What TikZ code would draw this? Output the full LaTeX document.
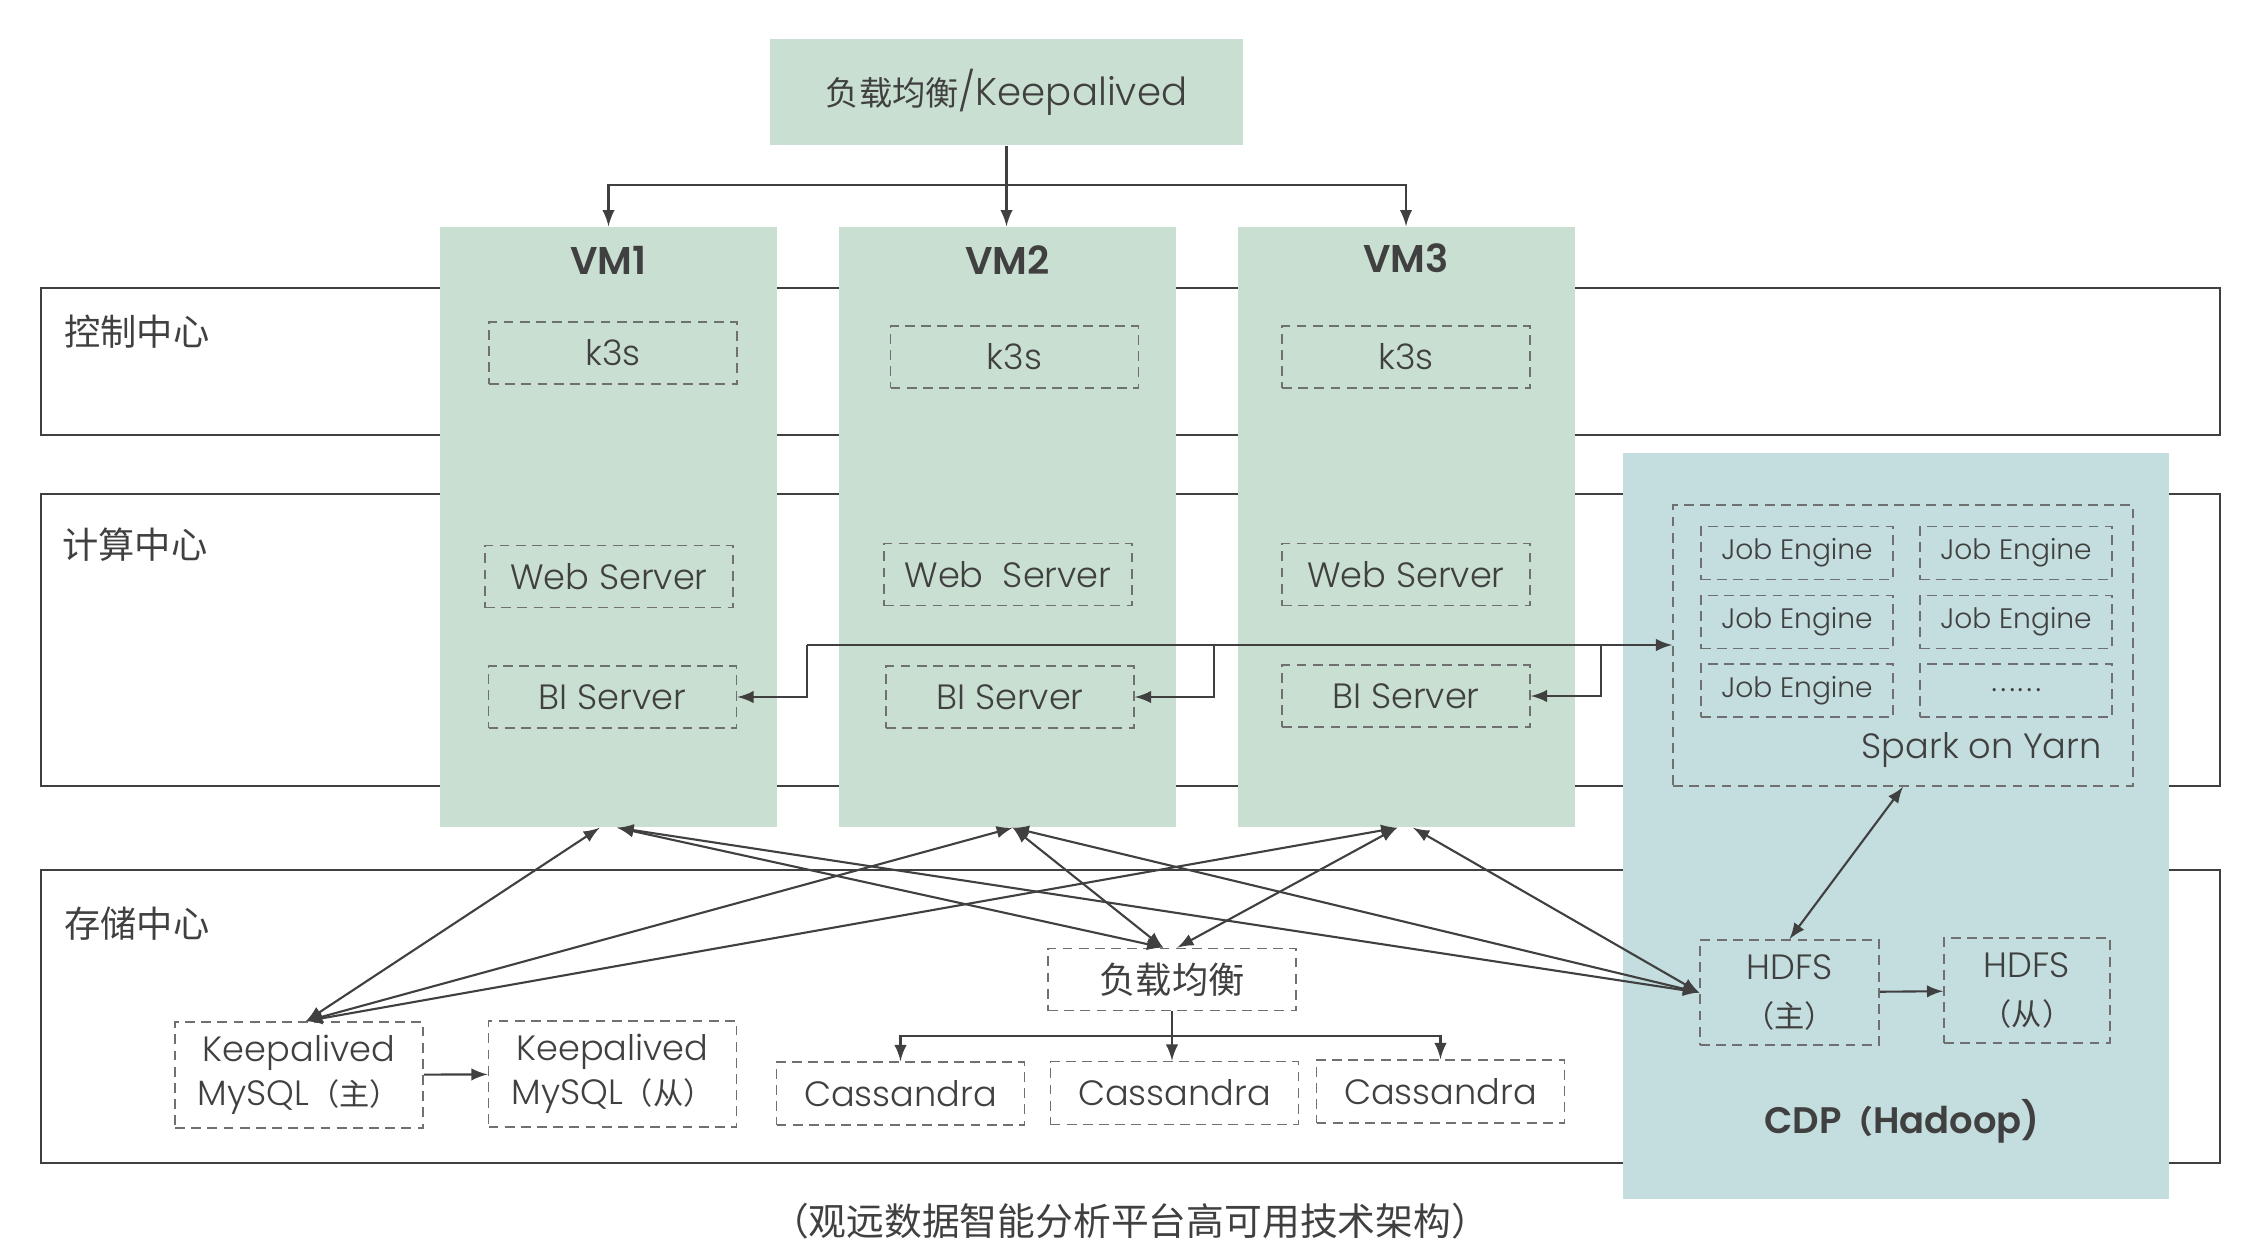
\documentclass[tikz,border=0pt]{standalone}
\usepackage{fontspec}
\setmainfont{Poppins}[UprightFont={* Light},BoldFont={* SemiBold}]
\newfontfamily\cjk[Scale=0.86]{Noto Sans CJK SC}
\newcommand{\zh}[1]{{\cjk #1}}
\definecolor{vmgreen}{HTML}{C8DFD1}
\definecolor{cdpblue}{HTML}{C4DDDE}
\definecolor{ink}{HTML}{404040}
\definecolor{dashgray}{HTML}{707070}

\begin{document}
\begin{tikzpicture}[x=1cm,y=-1cm,>=latex,
		every node/.style={text=ink},
		band/.style={draw=ink,line width=0.8pt},
		bandlabel/.style={anchor=west,font=\fontsize{12}{14}\selectfont\cjk},
		vm/.style={fill=vmgreen,inner sep=0pt,minimum width=3.37cm,minimum height=6cm},
		vmlabel/.style={font=\fontsize{11}{13}\selectfont\bfseries},
		dbox/.style={draw=dashgray,line width=0.5pt,dash pattern=on 2.8pt off 1.8pt,inner sep=0pt,minimum width=2.48cm,minimum height=0.62cm,align=center,font=\fontsize{10}{12.5}\selectfont},
		jobbox/.style={dbox,minimum width=1.92cm,minimum height=0.53cm,font=\fontsize{8}{10}\selectfont},
		link/.style={draw=ink,line width=0.6pt}]
		\useasboundingbox (0,0) rectangle (22.54,12.56);
		\draw[band] (0.41,2.88) rectangle (22.20,4.35);
		\draw[band] (0.41,4.94) rectangle (22.20,7.86);
		\draw[band] (0.41,8.70) rectangle (22.20,11.63);
		\node[bandlabel] at (0.52,3.32) {控制中心};
		\node[bandlabel] at (0.50,5.45) {计算中心};
		\node[bandlabel] at (0.52,9.24) {存储中心};
		\node[fill=vmgreen,inner sep=0pt,minimum width=4.73cm,minimum height=1.06cm,font=\fontsize{11}{13}\selectfont] (keep) at (10.065,0.92) {\zh{负载均衡}/Keepalived};
		\node[vm] (vm1) at (6.085,5.27) {};
		\node[vm] (vm2) at (10.075,5.27) {};
		\node[vm] (vm3) at (14.06,5.27) {};
		\node[vmlabel] at (6.085,2.60) {VM1};
		\node[vmlabel] at (10.075,2.60) {VM2};
		\node[vmlabel] at (14.06,2.58) {VM3};
		\node[dbox] (k3s1) at (6.13,3.53) {k3s};
		\node[dbox] (k3s2) at (10.145,3.57) {k3s};
		\node[dbox] (k3s3) at (14.06,3.57) {k3s};
		\node[dbox] (web1) at (6.09,5.765) {Web Server};
		\node[dbox] (web2) at (10.08,5.745) {Web~~Server};
		\node[dbox] (web3) at (14.06,5.745) {Web Server};
		\node[dbox] (bi1) at (6.125,6.97) {BI Server};
		\node[dbox] (bi2) at (10.10,6.97) {BI Server};
		\node[dbox] (bi3) at (14.06,6.96) {BI Server};
		\node[fill=cdpblue,inner sep=0pt,minimum width=5.46cm,minimum height=7.46cm] (cdp) at (18.96,8.26) {};
		\node[dbox,minimum width=4.60cm,minimum height=2.81cm] (spark) at (19.03,6.455) {};
		\node[jobbox] (job1) at (17.97,5.53) {Job Engine};
		\node[jobbox] (job2) at (20.16,5.53) {Job Engine};
		\node[jobbox] (job3) at (17.97,6.22) {Job Engine};
		\node[jobbox] (job4) at (20.16,6.22) {Job Engine};
		\node[jobbox] (job5) at (17.97,6.905) {Job Engine};
		\node[jobbox] (job6) at (20.16,6.905) {\zh{……}};
		\node[font=\fontsize{10}{12}\selectfont,anchor=east] at (21.14,7.50) {Spark on Yarn};
		\node[dbox,minimum width=1.79cm,minimum height=1.05cm,font=\fontsize{10}{13.4}\selectfont] (hdfs1) at (17.895,9.925) {HDFS\\\zh{（主）}};
		\node[dbox,minimum width=1.66cm,minimum height=1.05cm,font=\fontsize{10}{13.4}\selectfont] (hdfs2) at (20.27,9.905) {HDFS\\\zh{（从）}};
		\node[font=\fontsize{10.5}{13}\selectfont\bfseries] at (19.02,11.21) {CDP\zh{（}Hadoop)};
		\node[dbox,minimum height=1.06cm] (mysql1) at (2.99,10.75) {Keepalived\\MySQL\zh{（主）}};
		\node[dbox,minimum height=1.06cm] (mysql2) at (6.125,10.74) {Keepalived\\MySQL\zh{（从）}};
		\node[dbox,font=\fontsize{12}{14}\selectfont] (slb) at (11.72,9.795) {\zh{负载均衡}};
		\node[dbox,minimum height=0.63cm] (cass1) at (9.005,10.935) {Cassandra};
		\node[dbox,minimum height=0.63cm] (cass2) at (11.745,10.93) {Cassandra};
		\node[dbox,minimum height=0.63cm] (cass3) at (14.405,10.915) {Cassandra};
		\node[font=\fontsize{12.5}{14}\selectfont\cjk] at (11.30,12.21) {（观远数据智能分析平台高可用技术架构）};
		\coordinate (vmsplit) at (10.065,1.85);
		\draw[link,->] (keep.south) -- (keep.south |- vm2.north);
		\draw[link,->] (vmsplit) -| (vm1.north);
		\draw[link,->] (vmsplit) -| (vm3.north);
		\coordinate (bitrunk) at (8.07,6.45);
		\coordinate (bifork2) at (12.14,6.45);
		\coordinate (bifork3) at (16.01,6.45);
		\draw[link,->] (bitrunk) -- (bitrunk -| spark.west);
		\draw[link,->] (bitrunk) |- (bi1.east);
		\draw[link,->] (bifork2) |- (bi2.east);
		\draw[link,->] (bifork3) |- (bi3.east);
		\draw[link,<->] (spark.south) -- (hdfs1.north);
		\draw[link,->] (hdfs1) -- (hdfs2);
		\draw[link,->] (mysql1) -- (mysql2);
		\coordinate (cassfork) at (11.72,10.36);
		\draw[link,->] (slb.south) -- (slb.south |- cass2.north);
		\draw[link,->] (cassfork) -| (cass1.north);
		\draw[link,->] (cassfork) -| (cass3.north);
		\draw[link,<->] ([xshift=-2.5pt]vm1.south) -- ([xshift=2pt]mysql1.north);
		\draw[link,<->] ([xshift=1.5pt]vm2.south) -- ([xshift=2pt]mysql1.north);
		\draw[link,<->] ([xshift=-2.5pt]vm3.south) -- ([xshift=2pt]mysql1.north);
		\draw[link,<->] ([xshift=2.5pt]vm1.south) -- ([xshift=-2.5pt]slb.north);
		\draw[link,<->] ([xshift=1.5pt]vm2.south) -- ([xshift=-2.5pt]slb.north);
		\draw[link,<->] ([xshift=-2.5pt]vm3.south) -- ([xshift=1.5pt]slb.north);
		\draw[link,<->] ([xshift=2.5pt]vm1.south) -- (hdfs1.west);
		\draw[link,<->] ([xshift=1.5pt]vm2.south) -- (hdfs1.west);
		\draw[link,<->] ([xshift=2pt]vm3.south) -- (hdfs1.west);
	\end{tikzpicture}
\end{document}
